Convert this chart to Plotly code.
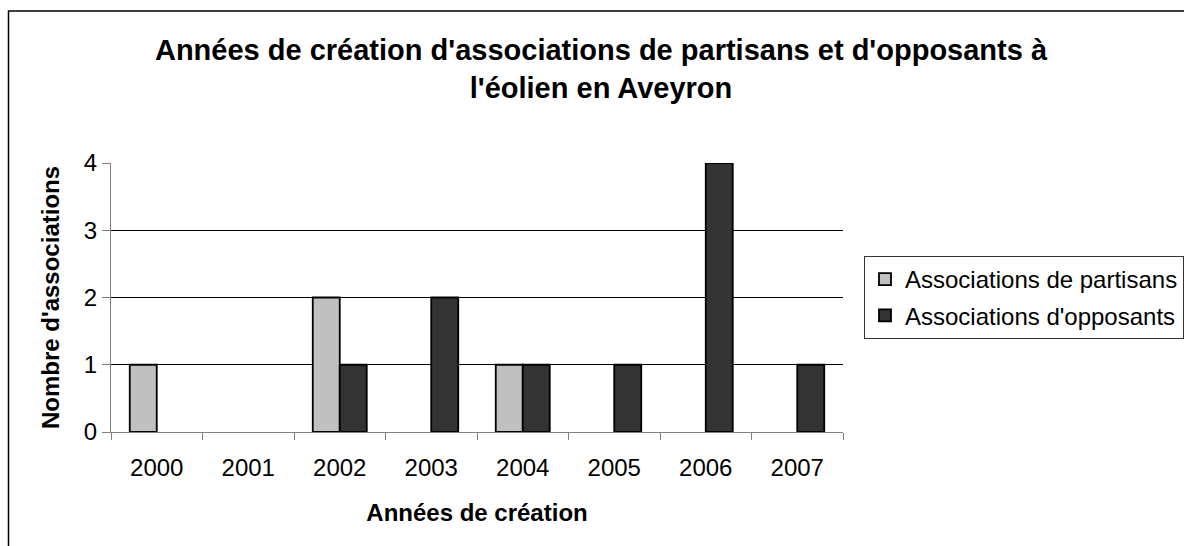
import plotly.graph_objects as go

# Data
years = ["2000", "2001", "2002", "2003", "2004", "2005", "2006", "2007"]
partisans = [1, 0, 2, 0, 1, 0, 0, 0]
opposants = [0, 0, 1, 2, 1, 1, 4, 1]
y_ticks = [0, 1, 2, 3, 4]
grid_levels = [1, 2, 3]

FONT = "Liberation Sans, Arial, sans-serif"


def nonzero(values):
    # empty years draw no bar at all
    return [v if v else None for v in values]


fig = go.Figure()
fig.add_trace(go.Bar(
    x=years, y=nonzero(partisans), name="Associations de partisans",
    legendgroup="p",
    marker=dict(color="#C0C0C0", line=dict(color="#000000", width=1.8)),
))
fig.add_trace(go.Bar(
    x=years, y=nonzero(opposants), name="Associations d'opposants",
    legendgroup="o",
    marker=dict(color="#333333", line=dict(color="#000000", width=1.8)),
))

W, H = 1184, 546
L, R, T, B = 111, 1184 - 843, 163, 546 - 432
pw, ph = W - L - R, H - T - B

fig.update_layout(
    width=W, height=H,
    margin=dict(l=L, r=R, t=T, b=B, pad=0, autoexpand=False),
    paper_bgcolor="white", plot_bgcolor="white",
    font=dict(family=FONT, size=24, color="#000000"),
    barmode="group", bargap=0.41, bargroupgap=0,
    title=dict(
        text="<b>Années de création d'associations de partisans et d'opposants à<br>l'éolien en Aveyron</b>",
        font=dict(family=FONT, size=29, color="#000000"),
        xref="paper", x=(601 - L) / pw, xanchor="center",
        yref="container", y=1 - 60 / H, yanchor="middle",
    ),
    showlegend=True,
    legend=dict(
        x=(864 - L) / pw, xanchor="left",
        y=(432 - 256) / ph, yanchor="top",
        bgcolor="white", bordercolor="#333333", borderwidth=1,
        font=dict(family=FONT, size=24, color="#000000"),
        traceorder="grouped", tracegroupgap=2, itemwidth=30,
    ),
    xaxis=dict(
        type="category", range=[-0.5, 7.5],
        showline=True, linecolor="#808080", linewidth=1.2,
        ticks="outside", tickson="boundaries", ticklen=7,
        tickcolor="#808080", tickwidth=1.2,
        tickfont=dict(family=FONT, size=24, color="#000000"),
        ticklabelstandoff=14,
        showgrid=False,
        title=dict(text="<b>Années de création</b>",
                   font=dict(family=FONT, size=24, color="#000000"),
                   standoff=24),
    ),
    yaxis=dict(
        range=[0, 4], tickvals=y_ticks,
        showline=True, linecolor="#808080", linewidth=1.2,
        ticks="outside", ticklen=8, tickcolor="#808080", tickwidth=1.2,
        tickfont=dict(family=FONT, size=24, color="#000000"),
        showgrid=False, zeroline=False,
        minor=dict(tickvals=grid_levels, showgrid=True,
                   gridcolor="#000000", gridwidth=1.2, ticks=""),
        title=dict(text="<b>Nombre d'associations</b>",
                   font=dict(family=FONT, size=24, color="#000000"),
                   standoff=17),
    ),
    shapes=[dict(
        type="rect", xref="paper", yref="paper", layer="above",
        x0=(8.5 - L) / pw, x1=1.6, y0=-0.6, y1=(432 - 11) / ph,
        line=dict(color="#000000", width=1.5), fillcolor="rgba(0,0,0,0)",
    )],
)

fig.write_html("out.html")
